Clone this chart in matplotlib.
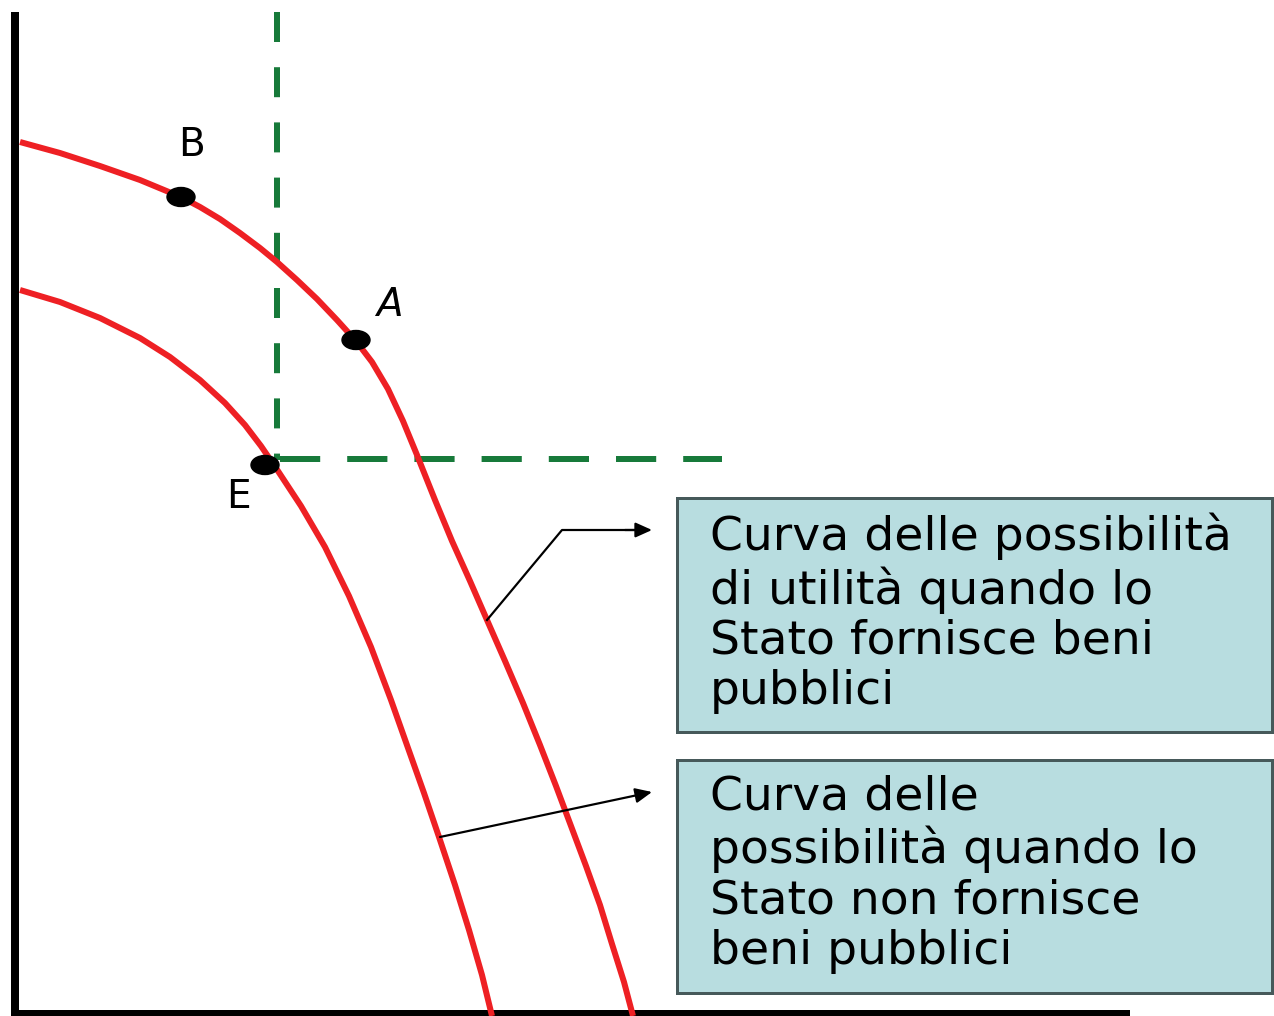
import matplotlib
matplotlib.use("Agg")
import matplotlib.pyplot as plt
from matplotlib.patches import Rectangle, Ellipse

# ---- data (pixel-like units, y downward) ----
outer_x = [20, 60, 100, 140, 181, 200, 220, 240, 260, 277, 297, 317, 337, 356,
           372, 388, 403, 417, 435, 452, 470, 487, 505, 523, 540, 556, 571,
           586, 600, 612, 624, 633]
outer_y = [142, 153, 166, 180, 197, 207, 219, 233, 248, 262, 280, 299, 320, 341,
           362, 389, 421, 455, 500, 541, 581, 620, 661, 703, 745, 786, 826,
           866, 905, 944, 982, 1016]

inner_x = [20, 60, 100, 140, 170, 200, 225, 245, 261, 276, 301, 325, 349, 371,
           391, 408, 424, 439, 455, 469, 482, 492]
inner_y = [290, 302, 318, 338, 357, 380, 403, 425, 446, 468, 506, 547, 596, 647,
           700, 748, 793, 837, 885, 930, 975, 1016]

point_labels = ["B", "A", "E"]
point_x = [181, 356, 265]
point_y = [197, 340, 465]

box_texts = [
    "Curva delle possibilità\ndi utilità quando lo\nStato fornisce beni\npubblici",
    "Curva delle\npossibilità quando lo\nStato non fornisce\nbeni pubblici",
]

# ---- figure ----
W, H = 1274, 1016
fig = plt.figure(figsize=(W / 100, H / 100), dpi=100)
ax = fig.add_axes([0, 0, 1, 1])
ax.set_xlim(0, W)
ax.set_ylim(H, 0)
ax.axis("off")

px = 72 / 100  # points per pixel

# axes lines
ax.plot([15, 15], [12, H], color="black", lw=8 * px, solid_capstyle="butt")
ax.plot([11, 1130], [1013, 1013], color="black", lw=6 * px, solid_capstyle="butt")

# dashed green guides
green = "#177a3a"
ax.plot([277, 277], [12, 460], color=green, lw=6 * px, dashes=(5, 4.2), solid_capstyle="butt")
ax.plot([280, 722], [459, 459], color=green, lw=6 * px, dashes=(6.7, 4.5))

# curves
red = "#ee2024"
ax.plot(outer_x, outer_y, color=red, lw=6 * px, solid_joinstyle="round", solid_capstyle="butt")
ax.plot(inner_x, inner_y, color=red, lw=6 * px, solid_joinstyle="round", solid_capstyle="butt")

# points
for xx, yy in zip(point_x, point_y):
    ax.add_patch(Ellipse((xx, yy), 28, 19, color="black", zorder=5))

label_pos = {"B": (192, 145, "normal"), "A": (389, 305, "italic"), "E": (238, 497, "normal")}
for lab in point_labels:
    lx, ly, st = label_pos[lab]
    ax.text(lx, ly, lab, fontsize=28, ha="center", va="center", style=st,
            family="DejaVu Sans", color="black")

# boxes
boxes = [(677, 498, 595, 234), (677, 760, 595, 233)]
for (bx, by, bw, bh), txt in zip(boxes, box_texts):
    ax.add_patch(Rectangle((bx, by), bw, bh, facecolor="#b8dde0",
                           edgecolor="#46595a", lw=3 * px, zorder=3))
    ax.text(bx + 33, by + 15, txt, fontsize=34, ha="left", va="top",
            family="DejaVu Sans", linespacing=1.15, color="black", zorder=4)

# arrows
ax.plot([487, 562, 635], [620, 530, 530], color="black", lw=2.2 * px)
ax.annotate("", xy=(652, 530), xytext=(625, 530),
            arrowprops=dict(arrowstyle="-|>,head_length=1.0,head_width=0.45",
                            color="black", lw=2.2 * px, shrinkA=0, shrinkB=0))
ax.annotate("", xy=(652, 792), xytext=(440, 837),
            arrowprops=dict(arrowstyle="-|>,head_length=1.0,head_width=0.45",
                            color="black", lw=2.2 * px, shrinkA=0, shrinkB=0))

fig.savefig("out.png", dpi=100)
